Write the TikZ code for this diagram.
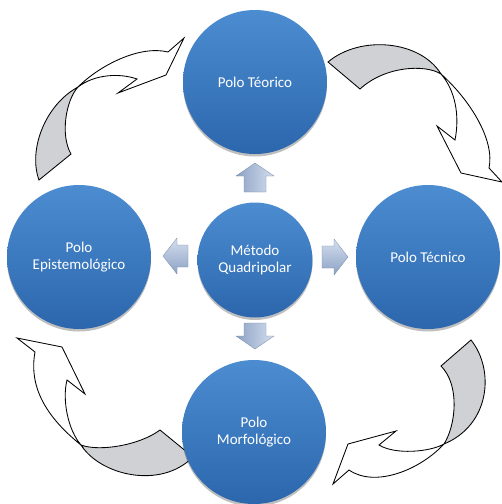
\documentclass[tikz,border=0pt]{standalone}
\usepackage{fontspec}
\setmainfont{Carlito}
\usetikzlibrary{shadows}
\definecolor{polotop}{RGB}{76,140,208}
\definecolor{polomid}{RGB}{60,122,192}
\definecolor{polobot}{RGB}{44,102,172}
\definecolor{ribbongray}{RGB}{208,209,212}
\definecolor{blkA}{RGB}{140,162,196}
\definecolor{blkB}{RGB}{212,222,238}
\begin{document}
\begin{tikzpicture}[x=1pt,y=-1pt,
  pole/.style={circle, minimum size=144pt, inner sep=0pt, text=white, align=center,
    font=\fontsize{15}{17.5}\selectfont,
    top color=polotop, bottom color=polobot, middle color=polomid,
    drop shadow={shadow xshift=0pt, shadow yshift=-2.5pt, opacity=0.25, fill=black}},
  hub/.style={pole, minimum size=115pt},
  ribbon/.style={draw=black, line width=0.85pt, line join=miter},
  blkv/.style={left color=blkA, right color=blkB, draw=blkA!85!black, line width=0.3pt},
  blkh/.style={top color=blkB, bottom color=blkA, draw=blkA!85!black, line width=0.3pt}]
\useasboundingbox (0,0) rectangle (502,504);

% curved arrows
% top-left
\draw[ribbon, fill=ribbongray] (39,180) .. controls (28,150) and (45,105) .. (78,87)
  .. controls (66,100) and (60,135) .. (71,154) -- cycle;
\draw[ribbon, fill=white] (78,87) .. controls (100,65) and (140,45) .. (168,52)
  -- (184,38) -- (166,75) -- (118,93) -- (137,79)
  .. controls (120,73) and (95,74) .. (78,87) -- cycle;
% top-right
\draw[ribbon, fill=ribbongray] (328,62) .. controls (360,35) and (420,40) .. (441,74)
  .. controls (425,64) and (385,66) .. (360,89) -- cycle;
\draw[ribbon, fill=white] (441,74) .. controls (470,100) and (495,140) .. (489,168)
  -- (502,182) -- (461,173) -- (437,126) -- (455,140)
  .. controls (460,115) and (455,90) .. (441,74) -- cycle;
% bottom-right
\draw[ribbon, fill=ribbongray] (471,340) .. controls (495,370) and (490,425) .. (444,444)
  .. controls (456,425) and (460,385) .. (441,366) -- cycle;
\draw[ribbon, fill=white] (444,444) .. controls (420,470) and (375,488) .. (349,470)
  -- (333,484) -- (348,444) -- (396,431) -- (379,445)
  .. controls (395,455) and (430,452) .. (444,444) -- cycle;
% bottom-left
\draw[ribbon, fill=ribbongray] (160,430) .. controls (140,445) and (100,452) .. (81,445)
  .. controls (100,475) and (160,490) .. (193,457) -- cycle;
\draw[ribbon, fill=white] (81,445) .. controls (50,420) and (28,390) .. (35,352)
  -- (17,338) -- (62,347) -- (85,394) -- (67,380)
  .. controls (62,400) and (68,430) .. (81,445) -- cycle;

% poles
\node[pole] (teo) at (255,82) {Polo Téorico};
\node[pole] (epi) at (79,257) {Polo\\Epistemológico};
\node[pole] (tec) at (428,257) {Polo Técnico};
\node[pole] (mor) at (254,432) {Polo\\Morfológico};
\node[hub] (met) at (255,260) {Método\\Quadripolar};

% block arrows
\draw[blkv] (255,163) -- (274,176) -- (266,176) -- (266,192) -- (244,192) -- (244,176) -- (236,176) -- cycle;
\draw[blkv] (255,349) -- (274,336) -- (266,336) -- (266,323) -- (244,323) -- (244,336) -- (236,336) -- cycle;
\draw[blkh] (163,256) -- (177,238) -- (177,245) -- (188,245) -- (188,267) -- (177,267) -- (177,274) -- cycle;
\draw[blkh] (348,257) -- (334,239) -- (334,246) -- (322,246) -- (322,268) -- (334,268) -- (334,275) -- cycle;
\end{tikzpicture}
\end{document}
